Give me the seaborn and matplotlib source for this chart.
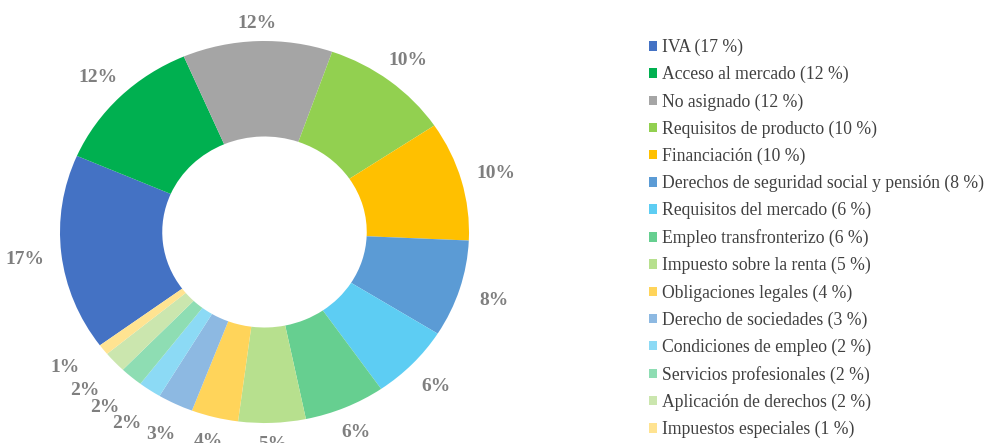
import matplotlib
matplotlib.use("Agg")
import matplotlib.pyplot as plt
import seaborn as sns
import numpy as np

# categories in legend order (clockwise around the ring, starting with IVA)
categories = [
    "IVA",
    "Acceso al mercado",
    "No asignado",
    "Requisitos de producto",
    "Financiación",
    "Derechos de seguridad social y pensión",
    "Requisitos del mercado",
    "Empleo transfronterizo",
    "Impuesto sobre la renta",
    "Obligaciones legales",
    "Derecho de sociedades",
    "Condiciones de empleo",
    "Servicios profesionales",
    "Aplicación de derechos",
    "Impuestos especiales",
]
# shares in percent
shares = [16.6, 12.0, 11.8, 10.2, 10.1, 8.2, 6.4, 6.4, 5.3, 3.7, 2.8, 1.8, 1.8, 1.8, 0.9]
colors = [
    "#4472C4", "#00B050", "#A5A5A5", "#92D050", "#FFC000",
    "#5B9BD5", "#5DCDF3", "#66CF90", "#B7E08E", "#FFD45A",
    "#8DB9E2", "#8CDAF5", "#8EDDB3", "#CBE6AE", "#FFE391",
]

sns.set_theme(style="white")
plt.rcParams["font.family"] = ["Liberation Serif", "DejaVu Serif"]

fig = plt.figure(figsize=(9.86, 4.43), dpi=100)
ax = fig.add_axes([60 / 986, 20 / 443, 409 / 986, 382 / 443])

wedges, _ = ax.pie(
    shares,
    colors=sns.color_palette(colors),
    startangle=90 - 233.6,
    counterclock=False,
    wedgeprops=dict(width=0.5, linewidth=0),
)
ax.set_aspect("auto")
ax.set_xlim(-1, 1)
ax.set_ylim(-1, 1)
ax.axis("off")

# data labels outside the ring; the thin slices are pushed a bit further out
for w, s in zip(wedges, shares):
    mid_deg = (w.theta1 + w.theta2) / 2
    r = 1.10 + 0.08 * abs(np.cos(np.deg2rad(mid_deg)))
    if s < 3.5:
        r = max(r, 1.165)
    if s < 2.5:
        r = max(r, 1.2)
    if s < 1.5:
        mid_deg -= 2.5  # keep the 1% label clear of its neighbour
    mid = np.deg2rad(mid_deg)
    ax.text(r * np.cos(mid), r * np.sin(mid), f"{round(s)}%",
            ha="center", va="center_baseline", fontsize=14, fontweight="bold",
            color="#7f7f7f", clip_on=False)

legend_labels = [f"{c} ({round(s)} %)" for c, s in zip(categories, shares)]
ax.legend(wedges, legend_labels, loc="upper left",
          bbox_to_anchor=(649 / 986, 0.912), bbox_transform=fig.transFigure,
          frameon=False, fontsize=12.7, handlelength=0.45, handleheight=0.45,
          handletextpad=0.28, labelspacing=0.56, borderpad=0, borderaxespad=0,
          labelcolor="#404040")

fig.savefig("out.png", dpi=100)
